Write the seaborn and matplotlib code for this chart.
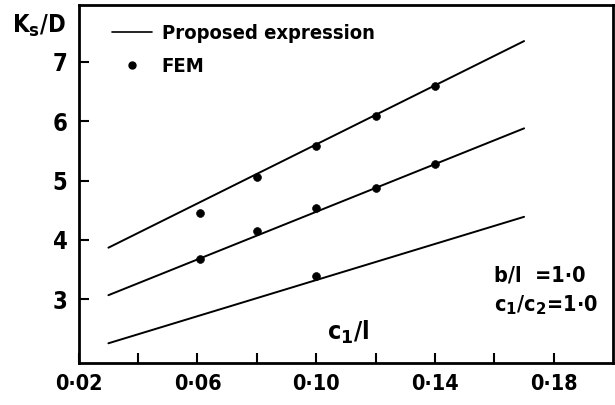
import seaborn as sns
import matplotlib.pyplot as plt
from matplotlib.lines import Line2D

# proposed expression lines (end points)
line_x = [0.03, 0.17]
line_top = [3.87, 7.35]
line_mid = [3.07, 5.88]
line_low = [2.26, 4.39]

# FEM points
fem_x = [0.061, 0.08, 0.10, 0.12, 0.14]
fem_top = [4.45, 5.06, 5.58, 6.09, 6.60]
fem_mid = [3.68, 4.15, 4.54, 4.88, 5.28]
fem_low_x = [0.10]
fem_low = [3.40]

xticks = [0.02, 0.04, 0.06, 0.08, 0.10, 0.12, 0.14, 0.16, 0.18]
xlabels = ["0·02", "", "0·06", "", "0·10", "", "0·14", "", "0·18"]
yticks = [3, 4, 5, 6, 7]
ylabels = ["3", "4", "5", "6", "7"]

sns.set_style("ticks", {'text.color': 'black', 'xtick.color': 'black', 'ytick.color': 'black',
                        'axes.edgecolor': 'black', 'axes.labelcolor': 'black'})
plt.rcParams['font.family'] = ['DejaVu Sans']
fnt = dict(fontweight='bold', fontstretch='condensed')

fig = plt.figure(figsize=(6.15, 4.05), dpi=100)
ax = fig.add_axes([0.128, 0.104, 0.869, 0.884])

for ys in [line_top, line_mid, line_low]:
    sns.lineplot(x=line_x, y=ys, ax=ax, color='black', lw=1.4)

for xs, ys in [(fem_x, fem_top), (fem_x, fem_mid), (fem_low_x, fem_low)]:
    sns.scatterplot(x=xs, y=ys, ax=ax, color='black', s=32, edgecolor='black', zorder=3)

ax.set_xlim(0.02, 0.2)
ax.set_ylim(1.93, 7.96)
ax.set_xticks(xticks)
ax.set_xticklabels(xlabels, fontsize=15.5, **fnt)
ax.set_yticks(yticks)
ax.set_yticklabels(ylabels, fontsize=17, **fnt)
ax.tick_params(direction='in', length=7, width=1.5, pad=8)
for sp in ax.spines.values():
    sp.set_linewidth(2)

handles = [Line2D([], [], color='black', lw=1.2),
           Line2D([], [], color='black', marker='o', ls='', markersize=5)]
leg = ax.legend(handles, ['Proposed expression', 'FEM'], loc='upper left',
                frameon=False, prop=dict(size=14.5, weight='bold', stretch='condensed'),
                handlelength=2.0, handletextpad=0.5, borderaxespad=0.3, labelspacing=0.7,
                bbox_to_anchor=(0.035, 0.985))

ax.text(-0.125, 0.978, "K$_\\mathbf{s}$/D", transform=ax.transAxes, fontsize=17,
        ha='left', va='top', **fnt)
ax.text(0.1035, 2.45, "c$_\\mathbf{1}$/l", fontsize=18, ha='left', va='center', **fnt)
ax.text(0.160, 3.40, "b/l  =1·0", fontsize=15.5, ha='left', va='center', **fnt)
ax.text(0.160, 2.90, "c$_\\mathbf{1}$/c$_\\mathbf{2}$=1·0", fontsize=15.5, ha='left', va='center', **fnt)

fig.savefig("out.png", dpi=100)
